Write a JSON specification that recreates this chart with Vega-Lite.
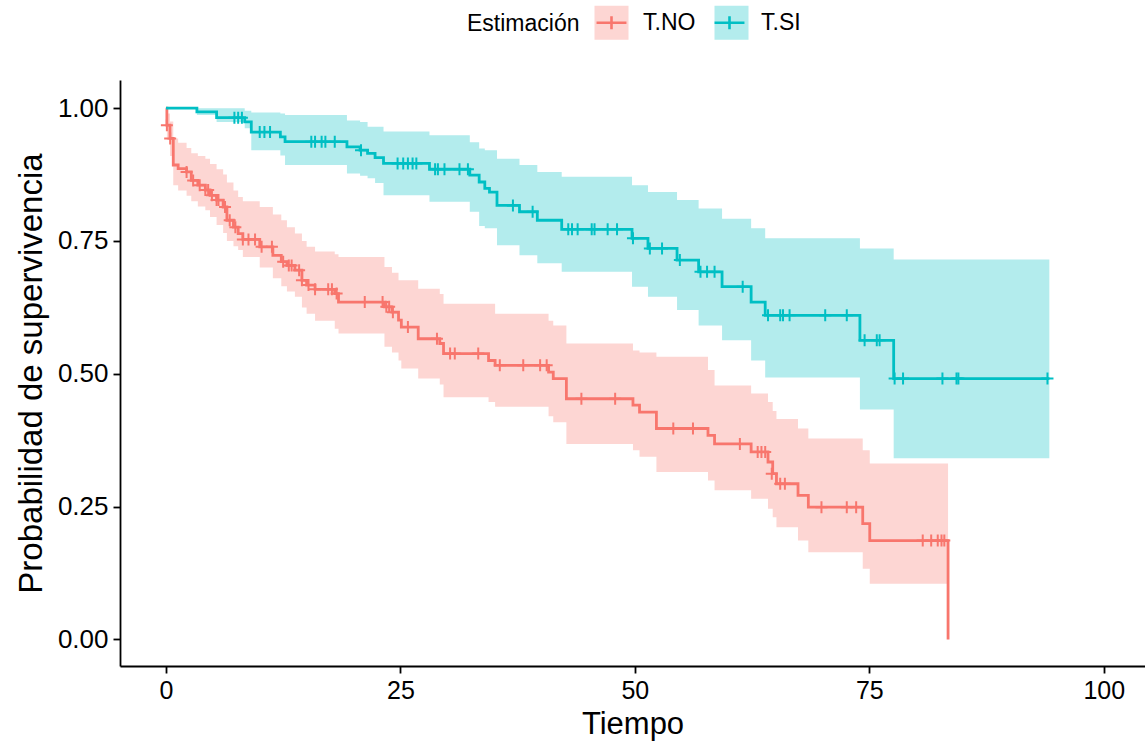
{
  "$schema": "https://vega.github.io/schema/vega-lite/v6.json",
  "width": 1025,
  "height": 586,
  "autosize": {"type": "none"},
  "padding": {"left": 120, "top": 80, "right": 0, "bottom": 76},
  "background": "white",
  "config": {
    "font": "Liberation Sans",
    "view": {"stroke": null},
    "axis": {
      "grid": false,
      "domainColor": "#000000",
      "domainWidth": 1.8,
      "tickColor": "#000000",
      "tickWidth": 1.8,
      "tickSize": 7,
      "labelColor": "#000000",
      "labelFont": "Liberation Sans",
      "labelFontSize": 25,
      "titleFont": "Liberation Sans",
      "titleFontSize": 31,
      "titleFontWeight": "normal",
      "titleColor": "#000000"
    },
    "legend": {"padding": 0}
  },
  "datasets": {
    "km": [
      {"grupo": "T.NO", "tiempo": 0, "surv": 1, "sup": 1, "inf": 1},
      {"grupo": "T.NO", "tiempo": 0.1, "surv": 0.968, "sup": 0.99, "inf": 0.94},
      {"grupo": "T.NO", "tiempo": 0.43, "surv": 0.943, "sup": 0.975, "inf": 0.91},
      {"grupo": "T.NO", "tiempo": 0.78, "surv": 0.893, "sup": 0.943, "inf": 0.855},
      {"grupo": "T.NO", "tiempo": 1.3, "surv": 0.886, "sup": 0.935, "inf": 0.845},
      {"grupo": "T.NO", "tiempo": 2.2, "surv": 0.88, "sup": 0.925, "inf": 0.835},
      {"grupo": "T.NO", "tiempo": 2.7, "surv": 0.864, "sup": 0.915, "inf": 0.825},
      {"grupo": "T.NO", "tiempo": 3.4, "surv": 0.855, "sup": 0.91, "inf": 0.815},
      {"grupo": "T.NO", "tiempo": 4.2, "surv": 0.846, "sup": 0.905, "inf": 0.808},
      {"grupo": "T.NO", "tiempo": 4.7, "surv": 0.836, "sup": 0.895, "inf": 0.795},
      {"grupo": "T.NO", "tiempo": 5.4, "surv": 0.827, "sup": 0.885, "inf": 0.78},
      {"grupo": "T.NO", "tiempo": 6.1, "surv": 0.814, "sup": 0.875, "inf": 0.765},
      {"grupo": "T.NO", "tiempo": 6.5, "surv": 0.789, "sup": 0.86, "inf": 0.75},
      {"grupo": "T.NO", "tiempo": 7.2, "surv": 0.776, "sup": 0.845, "inf": 0.74},
      {"grupo": "T.NO", "tiempo": 7.7, "surv": 0.764, "sup": 0.833, "inf": 0.733},
      {"grupo": "T.NO", "tiempo": 8.2, "surv": 0.753, "sup": 0.825, "inf": 0.72},
      {"grupo": "T.NO", "tiempo": 10.0, "surv": 0.739, "sup": 0.814, "inf": 0.7},
      {"grupo": "T.NO", "tiempo": 11.4, "surv": 0.723, "sup": 0.8, "inf": 0.68},
      {"grupo": "T.NO", "tiempo": 12.3, "surv": 0.711, "sup": 0.789, "inf": 0.665},
      {"grupo": "T.NO", "tiempo": 12.9, "surv": 0.704, "sup": 0.776, "inf": 0.655},
      {"grupo": "T.NO", "tiempo": 13.75, "surv": 0.695, "sup": 0.764, "inf": 0.645},
      {"grupo": "T.NO", "tiempo": 14.5, "surv": 0.676, "sup": 0.75, "inf": 0.625},
      {"grupo": "T.NO", "tiempo": 15.0, "surv": 0.667, "sup": 0.739, "inf": 0.613},
      {"grupo": "T.NO", "tiempo": 15.9, "surv": 0.659, "sup": 0.73, "inf": 0.6},
      {"grupo": "T.NO", "tiempo": 18.0, "surv": 0.651, "sup": 0.725, "inf": 0.585},
      {"grupo": "T.NO", "tiempo": 18.4, "surv": 0.635, "sup": 0.72, "inf": 0.576},
      {"grupo": "T.NO", "tiempo": 23.3, "surv": 0.626, "sup": 0.701, "inf": 0.551},
      {"grupo": "T.NO", "tiempo": 24.1, "surv": 0.616, "sup": 0.69, "inf": 0.54},
      {"grupo": "T.NO", "tiempo": 24.8, "surv": 0.601, "sup": 0.676, "inf": 0.525},
      {"grupo": "T.NO", "tiempo": 25.1, "surv": 0.588, "sup": 0.676, "inf": 0.51},
      {"grupo": "T.NO", "tiempo": 26.9, "surv": 0.566, "sup": 0.66, "inf": 0.491},
      {"grupo": "T.NO", "tiempo": 29.2, "surv": 0.557, "sup": 0.65, "inf": 0.48},
      {"grupo": "T.NO", "tiempo": 29.6, "surv": 0.538, "sup": 0.632, "inf": 0.456},
      {"grupo": "T.NO", "tiempo": 34.4, "surv": 0.525, "sup": 0.632, "inf": 0.447},
      {"grupo": "T.NO", "tiempo": 35.1, "surv": 0.516, "sup": 0.613, "inf": 0.438},
      {"grupo": "T.NO", "tiempo": 40.8, "surv": 0.503, "sup": 0.6, "inf": 0.42},
      {"grupo": "T.NO", "tiempo": 41.3, "surv": 0.491, "sup": 0.591, "inf": 0.409},
      {"grupo": "T.NO", "tiempo": 42.7, "surv": 0.453, "sup": 0.557, "inf": 0.368},
      {"grupo": "T.NO", "tiempo": 49.8, "surv": 0.441, "sup": 0.544, "inf": 0.356},
      {"grupo": "T.NO", "tiempo": 50.5, "surv": 0.428, "sup": 0.54, "inf": 0.344},
      {"grupo": "T.NO", "tiempo": 52.3, "surv": 0.397, "sup": 0.532, "inf": 0.315},
      {"grupo": "T.NO", "tiempo": 57.8, "surv": 0.384, "sup": 0.507, "inf": 0.299},
      {"grupo": "T.NO", "tiempo": 58.5, "surv": 0.368, "sup": 0.478, "inf": 0.281},
      {"grupo": "T.NO", "tiempo": 62.4, "surv": 0.353, "sup": 0.463, "inf": 0.265},
      {"grupo": "T.NO", "tiempo": 64.2, "surv": 0.334, "sup": 0.447, "inf": 0.246},
      {"grupo": "T.NO", "tiempo": 64.7, "surv": 0.312, "sup": 0.43, "inf": 0.23},
      {"grupo": "T.NO", "tiempo": 65.1, "surv": 0.293, "sup": 0.415, "inf": 0.211},
      {"grupo": "T.NO", "tiempo": 67.4, "surv": 0.271, "sup": 0.397, "inf": 0.186},
      {"grupo": "T.NO", "tiempo": 68.5, "surv": 0.249, "sup": 0.378, "inf": 0.164},
      {"grupo": "T.NO", "tiempo": 74.3, "surv": 0.218, "sup": 0.356, "inf": 0.133},
      {"grupo": "T.NO", "tiempo": 75.05, "surv": 0.186, "sup": 0.331, "inf": 0.105},
      {"grupo": "T.NO", "tiempo": 83.4, "surv": 0.0, "sup": 0.331, "inf": 0.105},
      {"grupo": "T.SI", "tiempo": 0, "surv": 1, "sup": 1, "inf": 1},
      {"grupo": "T.SI", "tiempo": 3.3, "surv": 0.993, "sup": 1, "inf": 0.987},
      {"grupo": "T.SI", "tiempo": 5.4, "surv": 0.982, "sup": 1, "inf": 0.974},
      {"grupo": "T.SI", "tiempo": 8.4, "surv": 0.974, "sup": 0.995, "inf": 0.962},
      {"grupo": "T.SI", "tiempo": 9.1, "surv": 0.955, "sup": 0.992, "inf": 0.921},
      {"grupo": "T.SI", "tiempo": 12.2, "surv": 0.946, "sup": 0.99, "inf": 0.911},
      {"grupo": "T.SI", "tiempo": 12.7, "surv": 0.937, "sup": 0.987, "inf": 0.893},
      {"grupo": "T.SI", "tiempo": 19.3, "surv": 0.927, "sup": 0.977, "inf": 0.877},
      {"grupo": "T.SI", "tiempo": 20.7, "surv": 0.921, "sup": 0.974, "inf": 0.873},
      {"grupo": "T.SI", "tiempo": 21.5, "surv": 0.915, "sup": 0.965, "inf": 0.868},
      {"grupo": "T.SI", "tiempo": 22.3, "surv": 0.907, "sup": 0.965, "inf": 0.859},
      {"grupo": "T.SI", "tiempo": 23.2, "surv": 0.896, "sup": 0.956, "inf": 0.836},
      {"grupo": "T.SI", "tiempo": 28.1, "surv": 0.885, "sup": 0.949, "inf": 0.824},
      {"grupo": "T.SI", "tiempo": 32.4, "surv": 0.874, "sup": 0.936, "inf": 0.805},
      {"grupo": "T.SI", "tiempo": 33.4, "surv": 0.861, "sup": 0.924, "inf": 0.778},
      {"grupo": "T.SI", "tiempo": 34.0, "surv": 0.849, "sup": 0.921, "inf": 0.774},
      {"grupo": "T.SI", "tiempo": 34.5, "surv": 0.842, "sup": 0.921, "inf": 0.774},
      {"grupo": "T.SI", "tiempo": 35.3, "surv": 0.817, "sup": 0.905, "inf": 0.742},
      {"grupo": "T.SI", "tiempo": 37.7, "surv": 0.805, "sup": 0.893, "inf": 0.723},
      {"grupo": "T.SI", "tiempo": 39.6, "surv": 0.789, "sup": 0.88, "inf": 0.708},
      {"grupo": "T.SI", "tiempo": 42.2, "surv": 0.772, "sup": 0.871, "inf": 0.692},
      {"grupo": "T.SI", "tiempo": 49.7, "surv": 0.755, "sup": 0.855, "inf": 0.664},
      {"grupo": "T.SI", "tiempo": 51.4, "surv": 0.736, "sup": 0.842, "inf": 0.645},
      {"grupo": "T.SI", "tiempo": 54.5, "surv": 0.714, "sup": 0.827, "inf": 0.62},
      {"grupo": "T.SI", "tiempo": 56.8, "surv": 0.692, "sup": 0.811, "inf": 0.591},
      {"grupo": "T.SI", "tiempo": 59.3, "surv": 0.664, "sup": 0.792, "inf": 0.563},
      {"grupo": "T.SI", "tiempo": 62.4, "surv": 0.635, "sup": 0.774, "inf": 0.525},
      {"grupo": "T.SI", "tiempo": 63.9, "surv": 0.61, "sup": 0.755, "inf": 0.493},
      {"grupo": "T.SI", "tiempo": 74.0, "surv": 0.563, "sup": 0.736, "inf": 0.433},
      {"grupo": "T.SI", "tiempo": 77.6, "surv": 0.491, "sup": 0.715, "inf": 0.341},
      {"grupo": "T.SI", "tiempo": 94.2, "surv": 0.491, "sup": 0.715, "inf": 0.341}
    ],
    "censura": [
      {"grupo": "T.NO", "tiempo": 0.1, "surv": 0.968},
      {"grupo": "T.NO", "tiempo": 0.45, "surv": 0.943},
      {"grupo": "T.NO", "tiempo": 2.2, "surv": 0.88},
      {"grupo": "T.NO", "tiempo": 2.9, "surv": 0.864},
      {"grupo": "T.NO", "tiempo": 3.6, "surv": 0.855},
      {"grupo": "T.NO", "tiempo": 4.2, "surv": 0.846},
      {"grupo": "T.NO", "tiempo": 4.5, "surv": 0.846},
      {"grupo": "T.NO", "tiempo": 4.9, "surv": 0.836},
      {"grupo": "T.NO", "tiempo": 5.4, "surv": 0.827},
      {"grupo": "T.NO", "tiempo": 5.6, "surv": 0.827},
      {"grupo": "T.NO", "tiempo": 6.3, "surv": 0.814},
      {"grupo": "T.NO", "tiempo": 6.8, "surv": 0.789},
      {"grupo": "T.NO", "tiempo": 7.4, "surv": 0.776},
      {"grupo": "T.NO", "tiempo": 8.2, "surv": 0.753},
      {"grupo": "T.NO", "tiempo": 8.8, "surv": 0.753},
      {"grupo": "T.NO", "tiempo": 9.5, "surv": 0.753},
      {"grupo": "T.NO", "tiempo": 10.2, "surv": 0.739},
      {"grupo": "T.NO", "tiempo": 11.3, "surv": 0.739},
      {"grupo": "T.NO", "tiempo": 12.5, "surv": 0.711},
      {"grupo": "T.NO", "tiempo": 13.1, "surv": 0.704},
      {"grupo": "T.NO", "tiempo": 13.4, "surv": 0.704},
      {"grupo": "T.NO", "tiempo": 14.2, "surv": 0.695},
      {"grupo": "T.NO", "tiempo": 14.5, "surv": 0.676},
      {"grupo": "T.NO", "tiempo": 15.2, "surv": 0.667},
      {"grupo": "T.NO", "tiempo": 15.9, "surv": 0.659},
      {"grupo": "T.NO", "tiempo": 17.3, "surv": 0.659},
      {"grupo": "T.NO", "tiempo": 17.7, "surv": 0.659},
      {"grupo": "T.NO", "tiempo": 18.2, "surv": 0.651},
      {"grupo": "T.NO", "tiempo": 21.2, "surv": 0.635},
      {"grupo": "T.NO", "tiempo": 23.1, "surv": 0.635},
      {"grupo": "T.NO", "tiempo": 23.5, "surv": 0.626},
      {"grupo": "T.NO", "tiempo": 23.8, "surv": 0.626},
      {"grupo": "T.NO", "tiempo": 24.2, "surv": 0.616},
      {"grupo": "T.NO", "tiempo": 25.8, "surv": 0.588},
      {"grupo": "T.NO", "tiempo": 28.9, "surv": 0.566},
      {"grupo": "T.NO", "tiempo": 30.3, "surv": 0.538},
      {"grupo": "T.NO", "tiempo": 30.8, "surv": 0.538},
      {"grupo": "T.NO", "tiempo": 33.3, "surv": 0.538},
      {"grupo": "T.NO", "tiempo": 35.6, "surv": 0.516},
      {"grupo": "T.NO", "tiempo": 38.1, "surv": 0.516},
      {"grupo": "T.NO", "tiempo": 39.9, "surv": 0.516},
      {"grupo": "T.NO", "tiempo": 40.6, "surv": 0.516},
      {"grupo": "T.NO", "tiempo": 44.3, "surv": 0.453},
      {"grupo": "T.NO", "tiempo": 47.9, "surv": 0.453},
      {"grupo": "T.NO", "tiempo": 54.1, "surv": 0.397},
      {"grupo": "T.NO", "tiempo": 56.2, "surv": 0.397},
      {"grupo": "T.NO", "tiempo": 61.2, "surv": 0.368},
      {"grupo": "T.NO", "tiempo": 63.1, "surv": 0.353},
      {"grupo": "T.NO", "tiempo": 63.5, "surv": 0.353},
      {"grupo": "T.NO", "tiempo": 63.9, "surv": 0.353},
      {"grupo": "T.NO", "tiempo": 64.6, "surv": 0.312},
      {"grupo": "T.NO", "tiempo": 65.5, "surv": 0.293},
      {"grupo": "T.NO", "tiempo": 66.0, "surv": 0.293},
      {"grupo": "T.NO", "tiempo": 69.9, "surv": 0.249},
      {"grupo": "T.NO", "tiempo": 72.6, "surv": 0.249},
      {"grupo": "T.NO", "tiempo": 73.6, "surv": 0.249},
      {"grupo": "T.NO", "tiempo": 80.7, "surv": 0.186},
      {"grupo": "T.NO", "tiempo": 81.6, "surv": 0.186},
      {"grupo": "T.NO", "tiempo": 82.3, "surv": 0.186},
      {"grupo": "T.NO", "tiempo": 82.7, "surv": 0.186},
      {"grupo": "T.NO", "tiempo": 83.0, "surv": 0.186},
      {"grupo": "T.SI", "tiempo": 7.3, "surv": 0.982},
      {"grupo": "T.SI", "tiempo": 7.7, "surv": 0.982},
      {"grupo": "T.SI", "tiempo": 8.1, "surv": 0.982},
      {"grupo": "T.SI", "tiempo": 10.0, "surv": 0.955},
      {"grupo": "T.SI", "tiempo": 10.5, "surv": 0.955},
      {"grupo": "T.SI", "tiempo": 11.1, "surv": 0.955},
      {"grupo": "T.SI", "tiempo": 15.5, "surv": 0.937},
      {"grupo": "T.SI", "tiempo": 15.9, "surv": 0.937},
      {"grupo": "T.SI", "tiempo": 16.6, "surv": 0.937},
      {"grupo": "T.SI", "tiempo": 17.0, "surv": 0.937},
      {"grupo": "T.SI", "tiempo": 18.0, "surv": 0.937},
      {"grupo": "T.SI", "tiempo": 20.8, "surv": 0.921},
      {"grupo": "T.SI", "tiempo": 24.7, "surv": 0.896},
      {"grupo": "T.SI", "tiempo": 25.3, "surv": 0.896},
      {"grupo": "T.SI", "tiempo": 25.8, "surv": 0.896},
      {"grupo": "T.SI", "tiempo": 26.3, "surv": 0.896},
      {"grupo": "T.SI", "tiempo": 26.7, "surv": 0.896},
      {"grupo": "T.SI", "tiempo": 28.7, "surv": 0.885},
      {"grupo": "T.SI", "tiempo": 29.0, "surv": 0.885},
      {"grupo": "T.SI", "tiempo": 29.7, "surv": 0.885},
      {"grupo": "T.SI", "tiempo": 31.3, "surv": 0.885},
      {"grupo": "T.SI", "tiempo": 32.2, "surv": 0.885},
      {"grupo": "T.SI", "tiempo": 37.0, "surv": 0.817},
      {"grupo": "T.SI", "tiempo": 39.1, "surv": 0.805},
      {"grupo": "T.SI", "tiempo": 42.9, "surv": 0.772},
      {"grupo": "T.SI", "tiempo": 43.3, "surv": 0.772},
      {"grupo": "T.SI", "tiempo": 43.9, "surv": 0.772},
      {"grupo": "T.SI", "tiempo": 45.4, "surv": 0.772},
      {"grupo": "T.SI", "tiempo": 45.7, "surv": 0.772},
      {"grupo": "T.SI", "tiempo": 47.1, "surv": 0.772},
      {"grupo": "T.SI", "tiempo": 48.1, "surv": 0.772},
      {"grupo": "T.SI", "tiempo": 49.8, "surv": 0.755},
      {"grupo": "T.SI", "tiempo": 51.6, "surv": 0.736},
      {"grupo": "T.SI", "tiempo": 52.9, "surv": 0.736},
      {"grupo": "T.SI", "tiempo": 54.8, "surv": 0.714},
      {"grupo": "T.SI", "tiempo": 57.0, "surv": 0.692},
      {"grupo": "T.SI", "tiempo": 57.7, "surv": 0.692},
      {"grupo": "T.SI", "tiempo": 58.5, "surv": 0.692},
      {"grupo": "T.SI", "tiempo": 61.5, "surv": 0.664},
      {"grupo": "T.SI", "tiempo": 64.2, "surv": 0.61},
      {"grupo": "T.SI", "tiempo": 65.5, "surv": 0.61},
      {"grupo": "T.SI", "tiempo": 65.8, "surv": 0.61},
      {"grupo": "T.SI", "tiempo": 66.5, "surv": 0.61},
      {"grupo": "T.SI", "tiempo": 70.3, "surv": 0.61},
      {"grupo": "T.SI", "tiempo": 72.6, "surv": 0.61},
      {"grupo": "T.SI", "tiempo": 74.5, "surv": 0.563},
      {"grupo": "T.SI", "tiempo": 75.8, "surv": 0.563},
      {"grupo": "T.SI", "tiempo": 76.1, "surv": 0.563},
      {"grupo": "T.SI", "tiempo": 77.7, "surv": 0.491},
      {"grupo": "T.SI", "tiempo": 78.6, "surv": 0.491},
      {"grupo": "T.SI", "tiempo": 82.8, "surv": 0.491},
      {"grupo": "T.SI", "tiempo": 84.3, "surv": 0.491},
      {"grupo": "T.SI", "tiempo": 84.5, "surv": 0.491},
      {"grupo": "T.SI", "tiempo": 94.0, "surv": 0.491}
    ]
  },
  "layer": [
    {
      "data": {"name": "km"},
      "mark": {"type": "area", "interpolate": "step-after", "opacity": 1},
      "encoding": {
        "x": {
          "field": "tiempo",
          "type": "quantitative",
          "scale": {"domain": [-4.9, 104.4], "nice": false, "zero": false},
          "axis": {"values": [0, 25, 50, 75, 100], "title": "Tiempo", "labelPadding": 5, "titlePadding": 6, "titleFontSize": 31}
        },
        "y": {
          "field": "inf",
          "type": "quantitative",
          "scale": {"domain": [-0.05, 1.053], "nice": false, "zero": false},
          "axis": {"values": [0, 0.25, 0.5, 0.75, 1], "format": ".2f", "title": "Probabilidad de supervivencia", "labelPadding": 5, "labelFontSize": 26, "titlePadding": 9, "titleFontSize": 33}
        },
        "y2": {"field": "sup"},
        "fill": {
          "field": "grupo",
          "type": "nominal",
          "scale": {"range": ["#FDD6D3", "#B3ECED"]},
          "legend": {
            "orient": "none",
            "legendX": 347,
            "legendY": -76,
            "direction": "horizontal",
            "title": "Estimación",
            "titleOrient": "left",
            "titleAnchor": "middle",
            "titleBaseline": "middle",
            "titleFontSize": 23,
            "titleFontWeight": "normal",
            "titleColor": "#000000",
            "titlePadding": 13,
            "labelFontSize": 23,
            "labelOpacity": 0,
            "labelOffset": 13,
            "columnPadding": 13,
            "symbolType": "square",
            "symbolSize": 1156,
            "symbolStrokeWidth": 2.6,
            "symbolStrokeColor": "transparent",
            "symbolOpacity": 1
          }
        }
      }
    },
    {
      "data": {"name": "km"},
      "mark": {"type": "line", "interpolate": "step-after", "strokeWidth": 2.8},
      "encoding": {
        "x": {"field": "tiempo", "type": "quantitative"},
        "y": {"field": "surv", "type": "quantitative"},
        "stroke": {
          "field": "grupo",
          "type": "nominal",
          "scale": {"domain": ["T.NO", "T.SI"], "range": ["#F8766D", "#00BFC4"]},
          "legend": {
            "orient": "none",
            "legendX": 473,
            "legendY": -76,
            "direction": "horizontal",
            "title": null,
            "labelFontSize": 23,
            "labelColor": "#000000",
            "labelOffset": 13,
            "columnPadding": 13,
            "symbolType": "M-0.88,0H0.88M0,-0.38V0.38",
            "symbolSize": 1156,
            "symbolStrokeWidth": 2.6,
            "symbolFillColor": "transparent",
            "symbolOpacity": 1
          }
        }
      }
    },
    {
      "data": {"name": "censura"},
      "mark": {"type": "point", "shape": "M-1,0H1M0,-1V1", "filled": false, "size": 144, "strokeWidth": 2, "opacity": 1},
      "encoding": {
        "x": {"field": "tiempo", "type": "quantitative"},
        "y": {"field": "surv", "type": "quantitative"},
        "stroke": {"field": "grupo", "type": "nominal"}
      }
    }
  ]
}
